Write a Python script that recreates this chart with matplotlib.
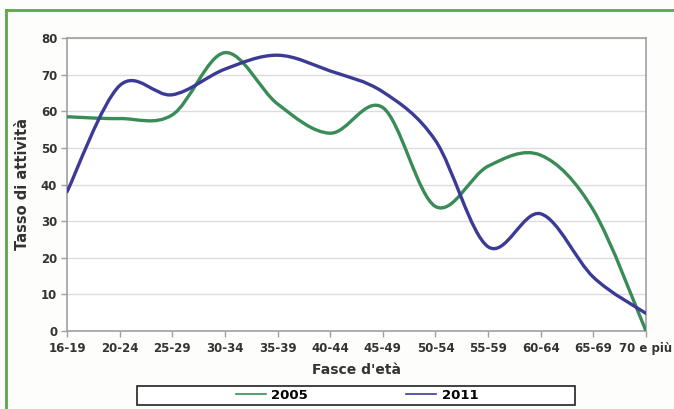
import matplotlib.pyplot as plt
import numpy as np
from matplotlib.path import Path
from matplotlib.patches import PathPatch, Rectangle
from matplotlib.lines import Line2D

# dati
fasce = ['16-19', '20-24', '25-29', '30-34', '35-39', '40-44',
         '45-49', '50-54', '55-59', '60-64', '65-69', '70 e più']
tasso_2005 = [58.5, 58, 59, 76, 62, 54, 61, 34, 45, 48, 33, 0]
tasso_2011 = [38, 67, 64.5, 71.5, 75.3, 71, 65.3, 52, 23, 32, 14.7, 4.8]

verde = '#3a8c57'
blu = '#3b3b96'


# curva liscia tipo Excel (Bezier con tangenti Catmull-Rom)
def smooth_path(x, y):
    p = np.column_stack([x, y]).astype(float)
    n = len(p)
    verts = [p[0]]
    codes = [Path.MOVETO]
    for i in range(n - 1):
        p0 = p[i - 1] if i > 0 else p[i]
        p1 = p[i]
        p2 = p[i + 1]
        p3 = p[i + 2] if i + 2 < n else p[i + 1]
        c1 = p1 + (p2 - p0) / 6.0
        c2 = p2 - (p3 - p1) / 6.0
        verts += [c1, c2, p2]
        codes += [Path.CURVE4] * 3
    return Path(verts, codes)


fig = plt.figure(figsize=(6.74, 4.09), dpi=100)
fig.patch.set_facecolor('#fdfdfb')

# cornice verde
fig.add_artist(Line2D([6 / 674, 1.0], [1 - 10 / 409, 1 - 10 / 409], color='#5aa847', lw=2))
fig.add_artist(Line2D([6 / 674, 6 / 674], [0.0, 1 - 10 / 409], color='#5aa847', lw=2))

ax = fig.add_axes([67 / 674, 1 - 331 / 409, 579 / 674, 293 / 409])
ax.set_facecolor('white')

x = np.arange(len(fasce))
for vals, col in [(tasso_2005, verde), (tasso_2011, blu)]:
    ax.add_patch(PathPatch(smooth_path(x, vals), facecolor='none', edgecolor=col,
                           lw=2.4, capstyle='round', zorder=3))

ax.set_xlim(0, len(fasce) - 1)
ax.set_ylim(0, 80)
ax.set_yticks(range(0, 81, 10))
ax.set_xticks(x)
ax.set_xticklabels(fasce)
ax.grid(axis='y', color='#dcdcdc', lw=1)
ax.set_axisbelow(True)
for s in ax.spines.values():
    s.set_color('#a0a0a0')
    s.set_linewidth(1.2)
ax.tick_params(axis='both', colors='#a0a0a0', labelcolor='#333333', length=4, width=1)
ax.tick_params(axis='x', pad=4)
ax.tick_params(axis='y', pad=3)
for lab in ax.get_xticklabels() + ax.get_yticklabels():
    lab.set_fontweight('bold')
    lab.set_fontsize(8.5)
ax.set_ylabel('Tasso di attività', fontsize=10.5, fontweight='bold', color='#333333', labelpad=8)
ax.set_xlabel("Fasce d'età", fontsize=10, fontweight='bold', color='#333333', labelpad=6)

# riquadro legenda
fig.add_artist(Rectangle((137 / 674, 1 - 405 / 409), 438 / 674, 19 / 409,
                         transform=fig.transFigure, facecolor='white',
                         edgecolor='#222222', lw=1.2))
handles = [Line2D([], [], color=verde, lw=1.2), Line2D([], [], color=blu, lw=1.2)]
leg = fig.legend(handles, ['2005', '2011'], loc='center', ncol=2,
                 bbox_to_anchor=(357 / 674, 1 - 395.5 / 409),
                 frameon=False, handlelength=2.3, handletextpad=0.4,
                 borderpad=0.0, columnspacing=7.4,
                 prop={'weight': 'bold', 'size': 9.5})

fig.savefig('out.png', dpi=100, facecolor=fig.get_facecolor())
